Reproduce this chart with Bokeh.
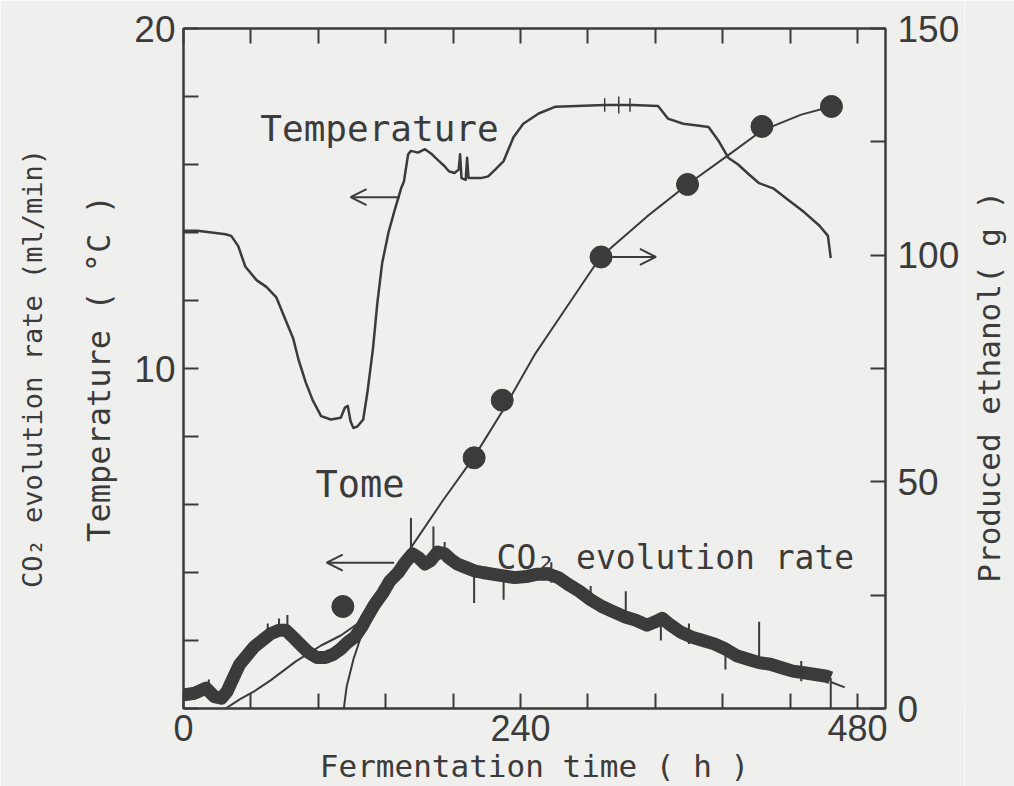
from bokeh.plotting import figure
from bokeh.models import Range1d, LinearAxis, FixedTicker, Arrow, OpenHead, Label
from bokeh.layouts import row
from bokeh.core.properties import value
from bokeh.embed import file_html
from bokeh.resources import INLINE
import math

# ---------------- data ----------------
x_major_ticks = [0, 240, 480]
x_minor_ticks = [48, 96, 144, 192, 288, 336, 384, 432]
left_major_ticks = [0, 10, 20]
left_minor_ticks = [2, 4, 6, 8, 12, 14, 16, 18]
right_major_ticks = [0, 50, 100, 150]
right_minor_ticks = [25, 75, 125]

# Temperature (deg C) vs fermentation time (h)
temp_hours = [0, 10, 20, 30, 34, 39, 44, 52, 59, 66, 73, 78, 82, 87, 92, 98, 105, 112,
              115, 117, 119, 121, 124, 128, 131, 135, 138, 141.5, 146, 150, 155, 157,
              160, 162, 167, 172, 177, 182, 186, 189, 193, 196, 197, 198, 201, 202, 203,
              208, 212, 217, 222, 228, 235, 242, 253, 265, 280, 300, 320, 338, 345, 356,
              366, 374, 381, 388, 395, 403, 410, 420, 431, 442, 453, 459, 461]
temp_values = [14.05, 14.05, 14.0, 13.95, 13.9, 13.6, 13.0, 12.6, 12.4, 12.1, 11.4, 10.9,
               10.25, 9.6, 9.07, 8.6, 8.5, 8.55, 8.85, 8.9, 8.45, 8.25, 8.3, 8.5, 9.3, 10.6,
               11.9, 13.1, 14.0, 14.6, 15.3, 15.5, 16.3, 16.4, 16.35, 16.45, 16.3, 16.1,
               15.95, 15.8, 15.75, 15.85, 16.3, 15.6, 15.55, 16.2, 15.6, 15.6, 15.6, 15.65,
               15.85, 16.1, 16.8, 17.2, 17.5, 17.7, 17.72, 17.75, 17.75, 17.72, 17.35, 17.2,
               17.15, 17.1, 16.7, 16.2, 16.0, 15.7, 15.45, 15.3, 14.95, 14.6, 14.2, 13.9, 13.25]
temp_spike_hours = [300, 310, 318]
temp_spike_low = [17.55, 17.5, 17.55]
temp_spike_high = [17.95, 18.0, 17.95]

# CO2 evolution rate (ml/min) vs time (h) - centre of the noisy trace
co2_hours = [0, 8, 16, 22, 27, 31, 36, 40, 45, 50, 56, 62, 68, 73, 78, 84, 89, 95, 101,
             107, 112, 117, 122, 127, 131, 136, 142, 147, 153, 158, 163, 167, 172, 176,
             181, 186, 190, 195, 201, 207, 213, 220, 228, 236, 244, 252, 260, 267, 274,
             282, 290, 298, 306, 314, 322, 330, 336, 341, 347, 354, 362, 370, 378, 386,
             394, 402, 410, 418, 426, 434, 442, 450, 458, 461]
co2_rates = [0.4, 0.45, 0.6, 0.35, 0.3, 0.5, 0.95, 1.3, 1.55, 1.8, 2.0, 2.2, 2.3, 2.3,
             2.1, 1.85, 1.65, 1.5, 1.5, 1.6, 1.75, 1.95, 2.1, 2.4, 2.7, 3.05, 3.4, 3.75,
             4.0, 4.3, 4.55, 4.45, 4.25, 4.35, 4.6, 4.55, 4.4, 4.25, 4.15, 4.05, 4.0, 3.95,
             3.9, 3.85, 3.88, 3.95, 3.95, 3.85, 3.65, 3.45, 3.2, 3.0, 2.85, 2.7, 2.6, 2.45,
             2.55, 2.65, 2.45, 2.25, 2.1, 2.0, 1.9, 1.75, 1.55, 1.45, 1.35, 1.3, 1.2, 1.1,
             1.05, 1.0, 0.95, 0.9]
co2_spike_hours = [18, 60, 68, 74, 162, 178, 186, 207, 228, 262, 290, 315, 340, 360, 386,
                   410, 440, 461]
co2_spike_low = [0.4, 2.0, 2.2, 2.2, 4.3, 4.3, 4.3, 3.1, 3.2, 3.7, 3.0, 2.7, 2.0, 1.9, 1.15,
                 1.35, 0.8, 0.0]
co2_spike_high = [0.85, 2.5, 2.65, 2.75, 5.6, 5.35, 4.9, 4.1, 3.9, 4.3, 3.6, 3.45, 2.6, 2.5,
                  1.8, 2.55, 1.4, 0.9]
co2_tail_hours = [461, 471]
co2_tail_rates = [0.78, 0.62]

# Produced ethanol (g): measured points and calculated curve
ethanol_sample_hours = [113.5, 207, 227, 297.4, 359, 412, 461.5]
ethanol_sample_g = [22.5, 55.3, 68.0, 99.6, 115.6, 128.4, 132.8]
ethanol_fit_hours = [30, 40, 50, 62, 80, 98, 112, 130, 146, 162, 185, 207, 227, 250,
                     275, 297, 330, 359, 390, 412, 440, 461.5]
ethanol_fit_g = [0, 2.0, 3.7, 6.2, 10.4, 13.9, 16.1, 20.0, 27.0, 35.5, 46.0, 55.5, 65.5,
                 78.0, 89.5, 99.6, 108.5, 115.6, 122.5, 127.5, 131.0, 132.8]
ethanol_restart_hours = [114.2, 116.2, 121, 126, 130]
ethanol_restart_g = [0.0, 4.8, 10.8, 15.5, 19.0]

right_title = "Produced ethanol( g )"

# ---------------- styling ----------------
INK = "#3b3b3b"
BG = "#efefed"
MONO = "DejaVu Sans Mono"
SANS = "Liberation Sans"
SIDE_W = 50

p = figure(width=1014 - SIDE_W, height=786, x_range=Range1d(0, 500), y_range=Range1d(0, 20),
           output_backend="svg", toolbar_location=None,
           min_border_left=183, min_border_right=129 - SIDE_W, min_border_top=28,
           min_border_bottom=77)
p.extra_y_ranges = {"eth": Range1d(0, 150)}
p.background_fill_color = BG
p.border_fill_color = BG
p.outline_line_color = INK
p.outline_line_width = 2
p.grid.visible = False


def style_axis(ax, size, standoff):
    ax.axis_line_color = INK
    ax.axis_line_width = 2
    ax.major_tick_line_color = INK
    ax.major_tick_line_width = 2
    ax.minor_tick_line_color = INK
    ax.minor_tick_line_width = 2
    ax.major_tick_in = 15
    ax.major_tick_out = 0
    ax.minor_tick_in = 15
    ax.minor_tick_out = 0
    ax.major_label_text_font = SANS
    ax.major_label_text_font_size = size
    ax.major_label_text_color = INK
    ax.major_label_standoff = standoff


def style_title(ax, size, standoff):
    ax.axis_label_text_font = MONO
    ax.axis_label_text_font_size = size
    ax.axis_label_text_font_style = "normal"
    ax.axis_label_text_color = INK
    ax.axis_label_standoff = standoff


# bottom axis
xax = p.xaxis[0]
xax.ticker = FixedTicker(ticks=x_major_ticks, minor_ticks=x_minor_ticks)
style_axis(xax, "36px", 6)
xax.axis_label = "Fermentation time ( h )"
style_title(xax, "31px", 4)

# top axis (ticks only)
top = LinearAxis(ticker=FixedTicker(ticks=x_major_ticks, minor_ticks=x_minor_ticks))
style_axis(top, "11px", 0)
top.major_label_overrides = {t: "" for t in x_major_ticks}
p.add_layout(top, "above")

# left axis (temperature / CO2 rate)
yax = p.yaxis[0]
yax.ticker = FixedTicker(ticks=left_major_ticks, minor_ticks=left_minor_ticks)
style_axis(yax, "37px", 8)
yax.major_label_overrides = {0: ""}
yax.axis_label = "Temperature ( °C )"
style_title(yax, "32px", 13)

outer = LinearAxis(ticker=FixedTicker(ticks=[]), axis_label="CO₂ evolution rate (ml/min)")
outer.axis_line_color = None
outer.major_tick_in = 0
outer.major_tick_out = 0
outer.minor_tick_in = 0
outer.minor_tick_out = 0
outer.major_label_standoff = 0
style_title(outer, "27px", 30)
p.add_layout(outer, "left")

# right axis (ethanol)
rax = LinearAxis(y_range_name="eth",
                 ticker=FixedTicker(ticks=right_major_ticks, minor_ticks=right_minor_ticks))
style_axis(rax, "37px", 12)
p.add_layout(rax, "right")

# ---------------- marks ----------------
p.line(temp_hours, temp_values, line_width=2.5, color=INK, line_join="round")
p.segment(x0=temp_spike_hours, y0=temp_spike_low, x1=temp_spike_hours, y1=temp_spike_high,
          line_width=1.5, color=INK)

p.line(co2_hours, co2_rates, line_width=13, color=INK, line_join="round")
p.segment(x0=co2_spike_hours, y0=co2_spike_low, x1=co2_spike_hours, y1=co2_spike_high,
          line_width=2, color=INK)
p.line(co2_tail_hours, co2_tail_rates, line_width=2, color=INK)

p.line(ethanol_fit_hours, ethanol_fit_g, y_range_name="eth", line_width=2, color=INK)
p.line(ethanol_restart_hours, ethanol_restart_g, y_range_name="eth", line_width=2, color=INK)
p.scatter(ethanol_sample_hours, ethanol_sample_g, y_range_name="eth", size=22,
          color=INK, marker="circle")

# ---------------- annotations ----------------
def arrow(x0, x1, y, rng="default"):
    p.add_layout(Arrow(end=OpenHead(size=16, line_color=INK, line_width=2),
                       x_start=x0, y_start=y, x_end=x1, y_end=y,
                       line_color=INK, line_width=2, y_range_name=rng))


arrow(154, 119, 15.04)
arrow(150, 102, 4.29)
arrow(304, 336.5, 99.6, "eth")


def label(x, y, text, size):
    p.add_layout(Label(x=x, y=y, text=text, text_font=MONO, text_font_size=size,
                       text_color=INK, text_baseline="alphabetic"))


label(54.7, 17.06, "Temperature", "36px")
label(94, 6.58, "Tome", "37px")
label(223, 4.43, "CO₂ evolution rate", "33px")

# ---------------- right-hand title strip (frame aligned with the main plot) ----------------
side = figure(width=SIDE_W, height=786, x_range=Range1d(0, SIDE_W), y_range=Range1d(0, 20),
              output_backend="svg", toolbar_location=None, min_border=0,
              x_axis_type=None, y_axis_type=None)
side.background_fill_color = BG
side.border_fill_color = BG
side.outline_line_color = None
side.grid.visible = False
side.text(x=[24], y=[3.7], text=[right_title], angle=math.pi / 2,
          text_font=value(MONO), text_font_size="31px", text_color=INK,
          text_align="left", text_baseline="alphabetic")

layout = row(p, side, spacing=0)
open("out.html", "w").write(file_html(layout, INLINE))
